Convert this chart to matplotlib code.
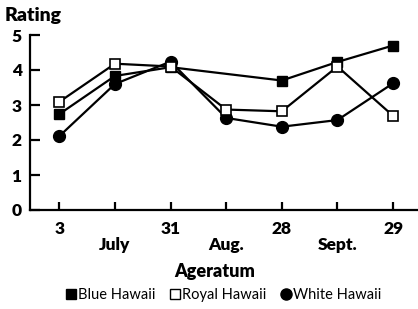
import matplotlib
matplotlib.use("Agg")
import matplotlib.pyplot as plt
from matplotlib.lines import Line2D

positions = [0, 1, 2, 3, 4, 5, 6]
blue_x = [0, 1, 2, 4, 5, 6]
blue_hawaii = [2.74, 3.83, 4.08, 3.70, 4.23, 4.70]
royal_hawaii = [3.09, 4.18, 4.10, 2.87, 2.82, 4.10, 2.69]
white_hawaii = [2.11, 3.60, 4.24, 2.63, 2.38, 2.57, 3.62]
day_ticks = [0, 2, 4, 6]
day_labels = ["3", "31", "28", "29"]
month_pos = [1, 3, 5]
month_labels = ["July", "Aug.", "Sept."]
y_ticks = [0, 1, 2, 3, 4, 5]

plt.rcParams['font.family'] = ['Lato', 'DejaVu Sans']

fig = plt.figure(figsize=(4.18, 3.09), dpi=100)
ax = fig.add_axes([30/418, 1-210/309, 387/418, 175/309])

ax.plot(blue_x, blue_hawaii, color='black', lw=1.6, marker='s', ms=6.5,
        mfc='black', mec='black', zorder=3)
ax.plot(positions, royal_hawaii, color='black', lw=1.6, marker='s', ms=6.5,
        mfc='white', mec='black', mew=1.2, zorder=4)
ax.plot(positions, white_hawaii, color='black', lw=1.6, marker='o', ms=8.5,
        mfc='black', mec='black', zorder=2)

ax.set_xlim(-0.527, 6.43)
ax.set_ylim(0, 5)
for s in ['top', 'right']:
    ax.spines[s].set_visible(False)
ax.spines['left'].set_linewidth(1.6)
ax.spines['bottom'].set_linewidth(1.6)

ax.set_xticks(positions)
ax.set_xticklabels(["" for _ in positions])
ax.set_yticks(y_ticks)
ax.set_yticklabels([str(v) for v in y_ticks], fontsize=12.5, fontweight='heavy')
ax.tick_params(axis='y', direction='in', length=7, width=1.6, pad=6)
ax.tick_params(axis='x', direction='in', length=6, width=1.6)

for p, lab in zip(day_ticks, day_labels):
    ax.text(p, -0.3, lab, ha='center', va='top', fontsize=12.5, fontweight='heavy')
for p, lab in zip(month_pos, month_labels):
    ax.text(p, -0.78, lab, ha='center', va='top', fontsize=12.5, fontweight='heavy')

fig.text(5/418, 1-15/309, "Rating", ha='left', va='center', fontsize=14, fontweight='heavy')
fig.text(215/418, 1-272/309, "Ageratum", ha='center', va='center', fontsize=13, fontweight='heavy')

handles = [
    Line2D([], [], ls='none', marker='s', ms=6.5, mfc='black', mec='black'),
    Line2D([], [], ls='none', marker='s', ms=6.5, mfc='white', mec='black'),
    Line2D([], [], ls='none', marker='o', ms=8, mfc='black', mec='black'),
]
fig.legend(handles, ["Blue Hawaii", "Royal Hawaii", "White Hawaii"],
           loc='center', bbox_to_anchor=(224/418, 1-295/309), ncol=3, frameon=False,
           fontsize=10.5, handlelength=0.6, handletextpad=0.2, columnspacing=1.0,
           borderpad=0)

fig.savefig("out.png", dpi=100)
